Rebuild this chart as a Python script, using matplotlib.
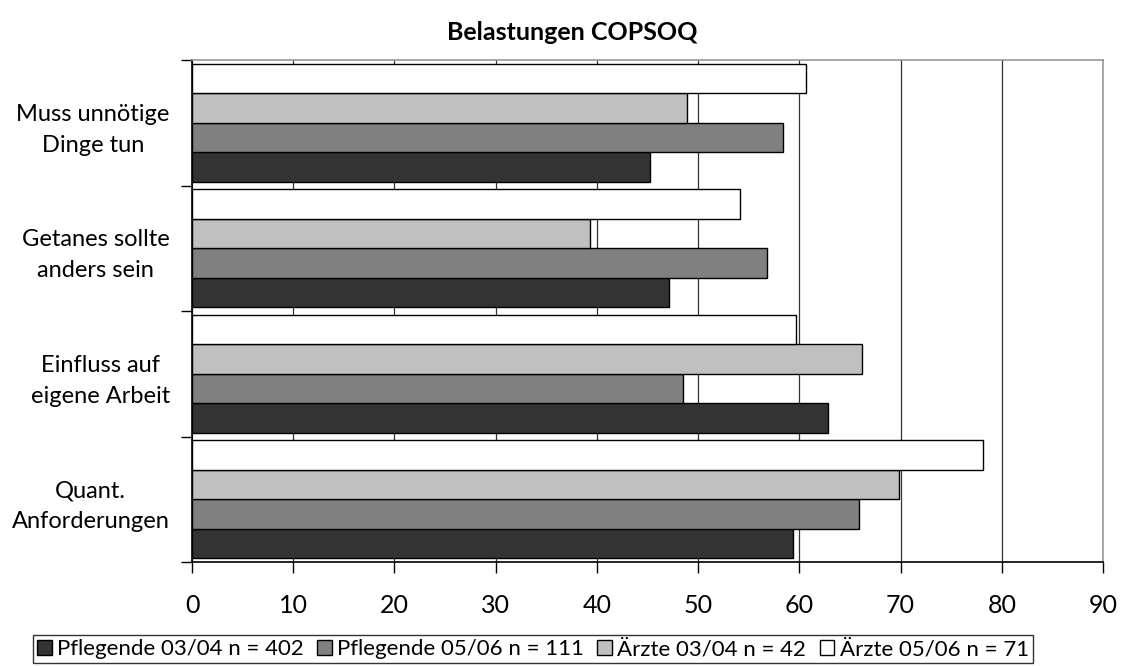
import numpy as np
import matplotlib.pyplot as plt
from matplotlib.ticker import FixedLocator

plt.rcParams['font.family'] = ['Lato', 'DejaVu Sans']

# categories, listed bottom to top as drawn
categories = ['Quant.\nAnforderungen', 'Einfluss auf\neigene Arbeit',
              'Getanes sollte\nanders sein', 'Muss unnötige\nDinge tun']
series = ['Pflegende 03/04 n = 402', 'Pflegende 05/06 n = 111',
          'Ärzte 03/04 n = 42', 'Ärzte 05/06 n = 71']
pfl_0304 = [59.4, 62.8, 47.1, 45.2]
pfl_0506 = [65.9, 48.5, 56.8, 58.4]
arz_0304 = [69.8, 66.2, 39.3, 48.9]
arz_0506 = [78.1, 59.7, 54.1, 60.7]
xticks = [0, 10, 20, 30, 40, 50, 60, 70, 80, 90]

colors = ['#333333', '#808080', '#c0c0c0', '#ffffff']

fig = plt.figure(figsize=(11.22, 6.66), dpi=100)
ax = fig.add_axes([192 / 1122, 1 - 562 / 666, (1103 - 192) / 1122, (562 - 60) / 666])

y = np.arange(len(categories))
h = 0.235
for i, (vals, c, lab) in enumerate(zip([pfl_0304, pfl_0506, arz_0304, arz_0506], colors, series)):
    ax.barh(y + (i - 1.5) * h, vals, height=h, color=c, edgecolor='black',
            linewidth=1.0, label=lab, zorder=3)

ax.set_xlim(0, 90)
ax.set_ylim(-0.5, len(categories) - 0.5)
ax.set_xticks(xticks)
ax.set_xticklabels([str(t) for t in xticks], fontsize=18)
ax.tick_params(axis='x', direction='out', length=8, width=1, pad=15, color='black')

ax.set_yticks(y)
ax.set_yticklabels(categories, fontsize=17, multialignment='center', linespacing=1.6)
ax.tick_params(axis='y', which='major', length=0, pad=16)
ax.yaxis.set_minor_locator(FixedLocator(np.arange(-0.5, len(categories), 1.0)))
ax.tick_params(axis='y', which='minor', direction='out', length=8, width=1, color='black')

ax.grid(axis='x', color='#333333', linewidth=0.9, zorder=0)
ax.set_axisbelow(True)
for s in ['top', 'right']:
    ax.spines[s].set_color('#999999')
    ax.spines[s].set_linewidth(1.2)
for s in ['left', 'bottom']:
    ax.spines[s].set_color('black')
    ax.spines[s].set_linewidth(1.2)

fig.text(572 / 1122, 1 - 33 / 666, 'Belastungen COPSOQ', ha='center', va='center',
         fontsize=18, fontweight='bold')

leg = fig.legend(loc='center', bbox_to_anchor=(533 / 1122, 1 - 649 / 666), ncol=4,
                 fontsize=16, frameon=True, fancybox=False, handlelength=0.65,
                 handleheight=0.65, handletextpad=0.25, columnspacing=0.6,
                 borderpad=0.2, borderaxespad=0)
leg.get_frame().set_edgecolor('black')
leg.get_frame().set_linewidth(1.0)

fig.savefig('out.png', dpi=100)
